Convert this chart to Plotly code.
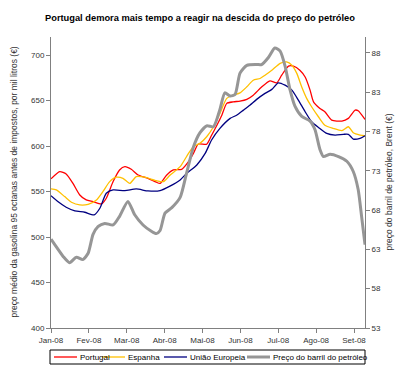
import plotly.graph_objects as go

# x positions expressed in months since 1 Jan 2008 (0 = Jan-08, 8 = Set-08)
month_labels = ["Jan-08", "Fev-08", "Mar-08", "Abr-08", "Mai-08", "Jun-08", "Jul-08", "Ago-08", "Set-08"]
month_ticks = [0, 1, 2, 3, 4, 5, 6, 7, 8]

portugal_m = [0, 0.23, 0.40, 0.58, 0.76, 0.93, 1.11, 1.33, 1.46, 1.64, 1.81, 1.95, 2.12, 2.30, 2.56, 2.78,
              2.88, 3.05, 3.23, 3.45, 3.63, 3.76, 3.89, 4.11, 4.24, 4.38, 4.51, 4.64, 4.81, 4.99, 5.17,
              5.34, 5.56, 5.78, 5.96, 6.09, 6.27, 6.40, 6.57, 6.71, 6.84, 6.93, 7.10, 7.23, 7.41, 7.68,
              7.85, 8.03, 8.11, 8.29]
portugal_v = [564, 572, 569.4, 559, 546.3, 540.8, 539, 536.4, 542.7, 561, 573.8, 577.4, 574.5, 568.3, 564.6, 560.3,
              559, 568, 573.8, 574.5, 583, 592, 602.3, 602, 612, 623, 634, 647, 648.7, 649.5, 651.4,
              656, 665, 671.8, 669.6, 678, 688, 688, 683.5, 676, 661.6, 648.7, 641.5, 637.8, 628.6, 627.5,
              630.5, 639.6, 638.9, 629.4]

espanha_m = [0, 0.14, 0.36, 0.54, 0.76, 0.98, 1.20, 1.37, 1.55, 1.72, 1.90, 2.08, 2.25, 2.47, 2.78, 2.97,
             3.14, 3.41, 3.63, 3.76, 3.93, 4.11, 4.29, 4.46, 4.64, 4.81, 4.99, 5.17, 5.34, 5.52, 5.65,
             5.83, 6.05, 6.22, 6.36, 6.49, 6.62, 6.75, 6.88, 7.06, 7.23, 7.45, 7.68, 7.85, 7.98, 8.16, 8.29]
espanha_v = [553, 551.8, 544.5, 538.3, 535.3, 536, 540.8, 550, 561, 565.8, 564.6, 559, 566.4, 565.8, 562, 561,
             568, 577.4, 592, 599.3, 603, 610.3, 621.3, 636, 652.5, 656, 658.6, 665.2, 672.5, 674.4, 678,
             683.5, 691, 692.6, 689, 680, 665, 652.5, 643.3, 632.3, 623, 619.5, 617, 621.3, 614.7, 612.2, 611.4]

ue_m = [0, 0.18, 0.40, 0.63, 0.89, 1.14, 1.29, 1.46, 1.64, 1.95, 2.25, 2.56, 2.88, 3.14, 3.41, 3.58,
        3.85, 4.07, 4.24, 4.46, 4.73, 4.90, 5.08, 5.25, 5.43, 5.65, 5.83, 6.00, 6.18, 6.36, 6.53,
        6.71, 6.88, 7.06, 7.28, 7.50, 7.72, 7.85, 7.98, 8.16, 8.29]
ue_v = [545.5, 539, 532.8, 528.8, 527.3, 524.4, 531.7, 548.2, 551.8, 551, 552.9, 550.7, 551, 556, 562.8, 570,
        579.3, 592, 606.7, 619.5, 630.5, 634, 639.6, 645, 651.4, 658, 662.4, 669.6, 667, 661.6, 650.6,
        637.8, 626.8, 620.6, 614, 612.2, 613, 613, 607.8, 608.6, 611.4]

brent_m = [0, 0.10, 0.32, 0.49, 0.67, 0.84, 0.98, 1.11, 1.24, 1.42, 1.64, 1.81, 2.03, 2.21, 2.43, 2.65,
           2.78, 2.88, 3.01, 3.19, 3.41, 3.58, 3.76, 3.93, 4.11, 4.29, 4.46, 4.59, 4.73, 4.86, 4.99,
           5.17, 5.43, 5.56, 5.74, 5.91, 6.05, 6.18, 6.31, 6.44, 6.62, 6.84, 6.97, 7.10, 7.19, 7.37,
           7.59, 7.81, 7.98, 8.11, 8.20, 8.29]
brent_v = [64.3, 63.6, 62.1, 61.3, 62.0, 61.7, 62.5, 64.9, 65.9, 66.3, 66.1, 67.2, 69.1, 67.4, 66.1, 65.3,
           65.0, 65.4, 67.6, 68.3, 69.6, 72.7, 76.0, 77.8, 78.7, 78.6, 80.8, 82.9, 82.5, 82.7, 85.4,
           86.4, 86.5, 86.5, 87.4, 88.6, 88.2, 86.3, 83.3, 81.2, 79.9, 79.3, 78.2, 75.7, 74.8, 75.1,
           74.8, 74.2, 72.9, 70.6, 67.2, 63.6]

left_ticks = [400, 450, 500, 550, 600, 650, 700]
right_ticks = [53, 58, 63, 68, 73, 78, 83, 88]

series_names = ["Portugal", "Espanha", "União Europeia", "Preço do barril do petróleo"]
series_colors = ["#FF0000", "#FFC000", "#000080", "#969696"]
series_widths = [1.3, 1.3, 1.3, 3]

FONT = "Liberation Sans, Arial, sans-serif"
AX = "#808080"
TXT = "#333333"

# plot-area geometry in pixels (for placing the hand-made legend / titles)
L, R, T, B = 51, 365, 37, 328
PW, PH = R - L, B - T


def px(xp):
    return (xp - L) / PW


def py(yp):
    return (B - yp) / PH


fig = go.Figure()
data = [(portugal_m, portugal_v, "y"), (espanha_m, espanha_v, "y"), (ue_m, ue_v, "y"), (brent_m, brent_v, "y2")]
for (xs, ys, ax), name, col, w in zip(data, series_names, series_colors, series_widths):
    fig.add_trace(go.Scatter(x=xs, y=ys, name=name, mode="lines", yaxis=ax, showlegend=False,
                             line=dict(color=col, width=w, shape="spline", smoothing=0.6)))

fig.update_layout(
    width=400, height=376,
    margin=dict(l=L, r=400 - R, t=T, b=376 - B),
    paper_bgcolor="white", plot_bgcolor="white",
    font=dict(family=FONT, size=8, color=TXT),
    title=dict(text="<b>Portugal demora mais tempo a reagir na descida do preço do petróleo</b>",
               x=0.5, xanchor="center", y=1 - 18 / 376, yanchor="middle",
               font=dict(family=FONT, size=9.3, color="#000000")),
    xaxis=dict(range=[0, 8.29], tickvals=month_ticks, ticktext=month_labels,
               showgrid=False, zeroline=False, showline=True, linecolor=AX, linewidth=1,
               ticks="outside", ticklen=4, tickcolor=AX, tickfont=dict(size=8, color=TXT)),
    yaxis=dict(range=[400, 720], tickvals=left_ticks, showgrid=False, zeroline=False,
               showline=True, linecolor=AX, linewidth=1, ticks="outside", ticklen=4, tickcolor=AX,
               tickfont=dict(size=8, color=TXT)),
    yaxis2=dict(range=[53, 90], tickvals=right_ticks, overlaying="y", side="right",
                showgrid=False, zeroline=False, showline=True, linecolor=AX, linewidth=1,
                ticks="outside", ticklen=4, tickcolor=AX, tickfont=dict(size=8, color=TXT)),
    showlegend=False,
)

# axis titles
fig.add_annotation(text="preço médio da gasolina 95 octanas antes de impostos, por mil litros (€)",
                   xref="paper", yref="paper", x=px(13), y=0.5, textangle=-90,
                   showarrow=False, xanchor="center", yanchor="middle",
                   font=dict(family=FONT, size=8.5, color=TXT))
fig.add_annotation(text="preço do barril de petróleo, Brent (€)",
                   xref="paper", yref="paper", x=px(388), y=0.5, textangle=-90,
                   showarrow=False, xanchor="center", yanchor="middle",
                   font=dict(family=FONT, size=8.5, color=TXT))

# legend (boxed, single row, as in the original)
fig.add_shape(type="rect", xref="paper", yref="paper", x0=px(50), x1=px(365), y0=py(364), y1=py(350),
              line=dict(color="#000000", width=1), fillcolor="white", layer="above")
leg_line_x = [54, 102, 164, 247]
for x0, name, col, w in zip(leg_line_x, series_names, series_colors, series_widths):
    fig.add_shape(type="line", xref="paper", yref="paper", x0=px(x0), x1=px(x0 + 23), y0=py(357), y1=py(357),
                  line=dict(color=col, width=w), layer="above")
    fig.add_annotation(text=name, xref="paper", yref="paper", x=px(x0 + 24), y=py(357),
                       showarrow=False, xanchor="left", yanchor="middle",
                       font=dict(family=FONT, size=8, color="#000000"))

# the page's default 8px body margin would shift the whole figure; remove it
fig.write_html("out.html", config={"displayModeBar": False},
               post_script="document.body.style.margin='0';document.body.style.padding='0';")
